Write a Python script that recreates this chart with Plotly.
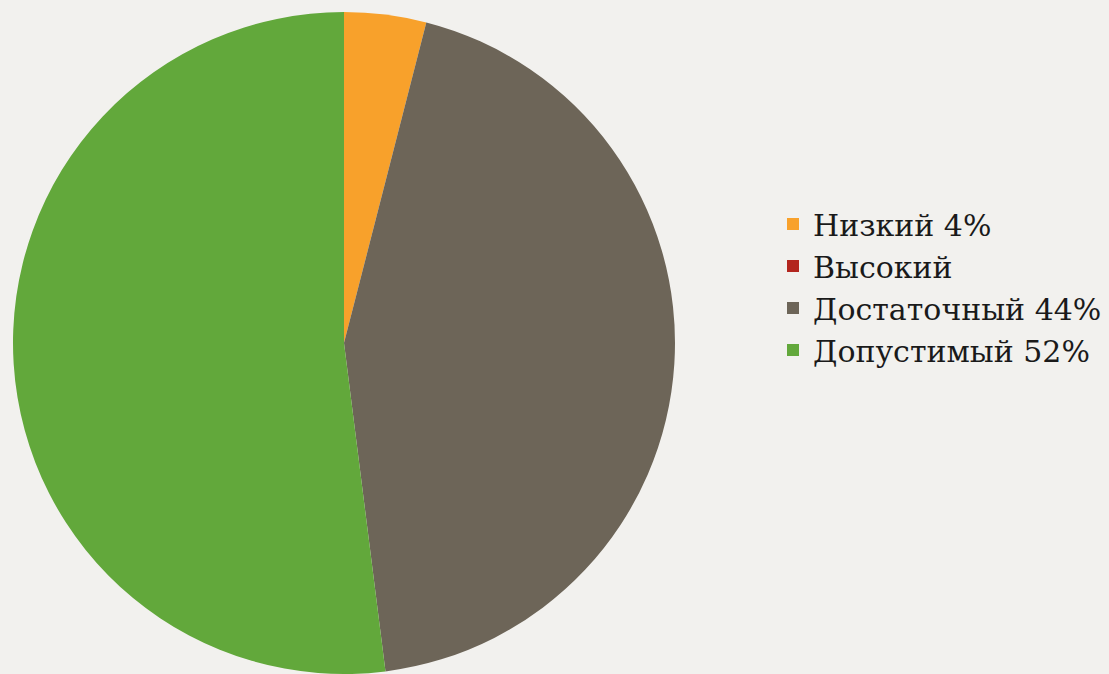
import plotly.graph_objects as go

labels = ["Низкий 4%", "Высокий", "Достаточный 44%", "Допустимый 52%"]
values = [4, 0, 44, 52]
colors = ["#F8A12B", "#B3261E", "#6D6558", "#62A83B"]

W, H = 1109, 674
FONT = "DejaVu Serif"

fig = go.Figure(go.Pie(
    labels=labels,
    values=values,
    sort=False,
    direction="clockwise",
    rotation=0,
    marker=dict(colors=colors, line=dict(width=0)),
    textinfo="none",
    hoverinfo="label+value",
    domain=dict(x=[13 / W, 675 / W], y=[0, 662 / H]),
    showlegend=True,
))

fig.update_layout(
    width=W, height=H,
    margin=dict(l=0, r=0, t=0, b=0),
    paper_bgcolor="#F2F1EE",
    plot_bgcolor="#F2F1EE",
    font=dict(family=FONT, size=30, color="#1a1a1a"),
    legend=dict(
        x=773 / W, y=(674 - 198) / H, xanchor="left", yanchor="top",
        bgcolor="rgba(0,0,0,0)",
        itemwidth=30,
        tracegroupgap=0,
        font=dict(family=FONT, size=30, color="#1a1a1a"),
    ),
)

fig.write_html(
    "out.html",
    config={"displayModeBar": False},
    post_script="document.body.style.margin='0px';document.body.style.background='#F2F1EE';",
)
